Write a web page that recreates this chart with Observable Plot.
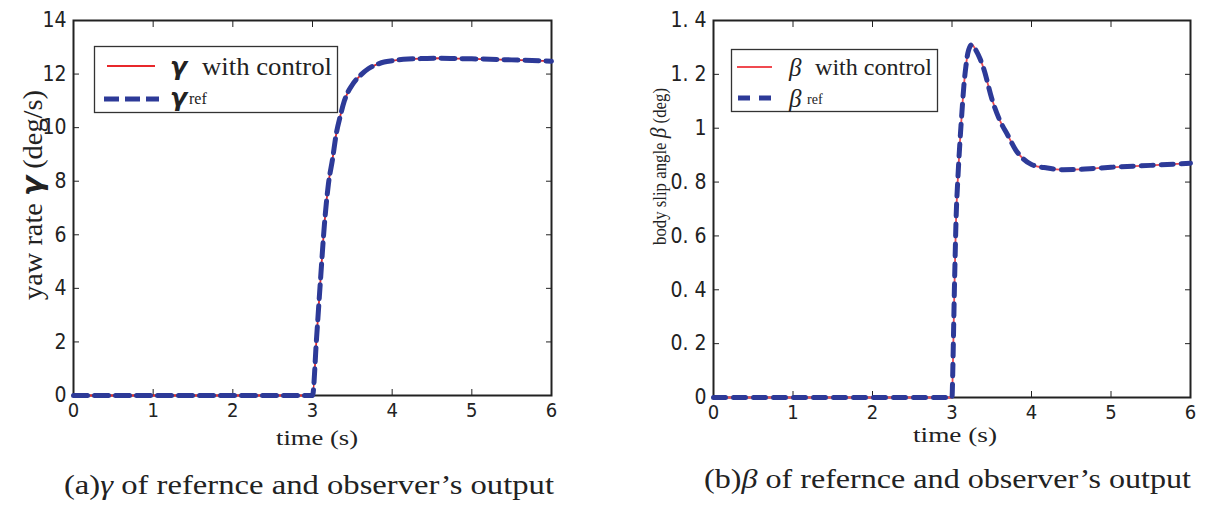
<!DOCTYPE html>
<html><head><meta charset="utf-8">
<script src="https://cdn.jsdelivr.net/npm/d3@7"></script>
<script src="https://cdn.jsdelivr.net/npm/@observablehq/plot@0.6"></script>
<style>
body{margin:0;background:#fff;}
#root{position:relative;width:1207px;height:507px;overflow:hidden;background:#fff;}
#root > svg, #root > div{position:absolute;top:0;}
#left{left:0;}
#right{left:600px;}
#overlay{left:0;top:0;pointer-events:none;}
.serif{font-family:"Liberation Serif","DejaVu Serif",serif;fill:#222;}
</style>
</head><body>
<div id="root">
  <div id="left"></div>
  <div id="right"></div>
</div>
<script>
// ---- data ----
const xTicks = [0, 1, 2, 3, 4, 5, 6];
const gammaTicks = [0, 2, 4, 6, 8, 10, 12, 14];
const betaTicks = [0, 0.2, 0.4, 0.6, 0.8, 1, 1.2, 1.4];
const betaTickLabels = ["0", "0. 2", "0. 4", "0. 6", "0. 8", "1", "1. 2", "1. 4"];

const gammaTime = [0, 0.5, 1, 1.5, 2, 2.5, 2.98, 3.0, 3.05, 3.1, 3.15, 3.2, 3.25, 3.3, 3.35, 3.4, 3.5, 3.6, 3.7, 3.8, 3.9, 4.0, 4.2, 4.4, 4.6, 4.8, 5.0, 5.5, 6.0];
const gammaCtrl = [0, 0, 0, 0, 0, 0, 0, 0, 2.1, 4.3, 6.4, 7.9, 8.8, 9.8, 10.45, 11.0, 11.6, 11.95, 12.2, 12.35, 12.45, 12.5, 12.56, 12.58, 12.59, 12.58, 12.57, 12.53, 12.48];
const gammaRef  = [0, 0, 0, 0, 0, 0, 0, 0, 2.1, 4.3, 6.4, 7.9, 8.8, 9.8, 10.45, 11.0, 11.6, 11.95, 12.2, 12.35, 12.45, 12.5, 12.56, 12.58, 12.59, 12.58, 12.57, 12.53, 12.48];

const betaTime = [0, 0.5, 1, 1.5, 2, 2.5, 2.99, 3.0, 3.01, 3.02, 3.03, 3.04, 3.05, 3.075, 3.1, 3.125, 3.15, 3.175, 3.2, 3.25, 3.3, 3.35, 3.4, 3.5, 3.6, 3.7, 3.8, 3.9, 4.0, 4.2, 4.4, 4.6, 4.8, 5.0, 5.5, 6.0];
const betaCtrl = [0, 0, 0, 0, 0, 0, 0, 0, 0.1, 0.25, 0.4, 0.53, 0.65, 0.82, 0.95, 1.06, 1.16, 1.23, 1.28, 1.31, 1.29, 1.26, 1.22, 1.11, 1.03, 0.975, 0.92, 0.885, 0.865, 0.852, 0.846, 0.847, 0.851, 0.855, 0.862, 0.87];
const betaRef  = [0, 0, 0, 0, 0, 0, 0, 0, 0.1, 0.25, 0.4, 0.53, 0.65, 0.82, 0.95, 1.06, 1.16, 1.23, 1.28, 1.31, 1.29, 1.26, 1.22, 1.11, 1.03, 0.975, 0.92, 0.885, 0.865, 0.852, 0.846, 0.847, 0.851, 0.855, 0.862, 0.87];

const redL = "#e8282b", redR = "#f04a50", blue = "#2d3a98";
const tickFont = "'Liberation Sans Narrow','DejaVu Sans Condensed','Liberation Sans',sans-serif";

function rows(t, v) { return t.map((d, i) => ({t: d, v: v[i]})); }

function chart({width, height, mL, mR, mT, mB, yDomain, yTicks, yFormat, ctrl, ref, red, dash, time}) {
  return Plot.plot({
    width, height, marginLeft: mL, marginRight: mR, marginTop: mT, marginBottom: mB,
    x: {domain: [0, 6]},
    y: {domain: yDomain},
    style: {fontFamily: tickFont, fontSize: "20px", color: "#222", background: "transparent", overflow: "visible"},
    marks: [
      Plot.frame({stroke: "#222", strokeWidth: 2}),
      Plot.axisX(xTicks, {anchor: "bottom", tickSize: 0, tickPadding: 7, label: null, fontSize: 20}),
      Plot.axisX(xTicks, {anchor: "bottom", tickSize: -6, tickFormat: () => "", label: null}),
      Plot.axisX(xTicks, {anchor: "top", tickSize: -6, tickFormat: () => "", label: null}),
      Plot.axisY(yTicks, {anchor: "left", tickSize: 0, tickPadding: 7, label: null, fontSize: 21, tickFormat: yFormat}),
      Plot.axisY(yTicks, {anchor: "left", tickSize: -6, tickFormat: () => "", label: null}),
      Plot.axisY(yTicks, {anchor: "right", tickSize: -6, tickFormat: () => "", label: null}),
      Plot.line(rows(time, ctrl), {x: "t", y: "v", stroke: red, strokeWidth: 1.8, curve: "monotone-x"}),
      Plot.line(rows(time, ref), {x: "t", y: "v", stroke: blue, strokeWidth: 5, strokeDasharray: dash, curve: "monotone-x"})
    ]
  });
}

document.getElementById("left").append(chart({
  width: 600, height: 450, mL: 73, mR: 49, mT: 20, mB: 55,
  yDomain: [0, 14], yTicks: gammaTicks, yFormat: d => String(d),
  ctrl: gammaCtrl, ref: gammaRef, red: redL, dash: "14,7", time: gammaTime
}));
document.getElementById("right").append(chart({
  width: 607, height: 452, mL: 113, mR: 17, mT: 20, mB: 55,
  yDomain: [0, 1.4], yTicks: betaTicks, yFormat: d => betaTickLabels[betaTicks.indexOf(d)],
  ctrl: betaCtrl, ref: betaRef, red: redR, dash: "12,8", time: betaTime
}));

// ---- overlay text: axis titles, legends, captions ----
const ns = "http://www.w3.org/2000/svg";
const ov = document.createElementNS(ns, "svg");
ov.setAttribute("id", "overlay");
ov.setAttribute("width", 1207); ov.setAttribute("height", 507);
const G = `font-family="DejaVu Sans" font-weight="bold" font-style="italic"`;
ov.innerHTML = `
  <g class="serif">
    <text x="276" y="445" font-size="22" textLength="82" lengthAdjust="spacingAndGlyphs">time (s)</text>
    <text x="913" y="442" font-size="22" textLength="84" lengthAdjust="spacingAndGlyphs">time (s)</text>
    <text transform="translate(42,300) rotate(-90)" font-size="28" textLength="210" lengthAdjust="spacingAndGlyphs">yaw rate <tspan ${G} font-size="29">γ</tspan> (deg/s)</text>
    <text transform="translate(666,245) rotate(-90)" font-size="18" textLength="157" lengthAdjust="spacingAndGlyphs">body slip angle <tspan font-style="italic" font-size="23">β</tspan> (deg)</text>

    <rect x="94.5" y="46.5" width="243" height="66" fill="#fff" stroke="#333" stroke-width="1.3"/>
    <line x1="107" x2="155" y1="66" y2="66" stroke="${redL}" stroke-width="1.8"/>
    <line x1="104" x2="159" y1="99" y2="99" stroke="${blue}" stroke-width="5" stroke-dasharray="15,6"/>
    <text x="170" y="75" font-size="25" ${G}>γ</text>
    <text x="202" y="75" font-size="25" textLength="130" lengthAdjust="spacingAndGlyphs">with control</text>
    <text x="170" y="106" font-size="25" ${G}>γ</text>
    <text x="189" y="104" font-size="16">ref</text>

    <rect x="731.5" y="49.5" width="206" height="62" fill="#fff" stroke="#333" stroke-width="1.3"/>
    <line x1="737" x2="772" y1="67" y2="67" stroke="${redR}" stroke-width="1.8"/>
    <line x1="738" x2="772" y1="98" y2="98" stroke="${blue}" stroke-width="5" stroke-dasharray="12,9"/>
    <text x="789" y="76" font-size="25" font-style="italic">β</text>
    <text x="815" y="75" font-size="23" textLength="117" lengthAdjust="spacingAndGlyphs">with control</text>
    <text x="789" y="107" font-size="25" font-style="italic">β</text>
    <text x="807" y="104" font-size="14">ref</text>

    <text x="64" y="494" font-size="27" textLength="490" lengthAdjust="spacingAndGlyphs">(a)<tspan font-style="italic">γ</tspan> of refernce and observer’s output</text>
    <text x="704" y="488" font-size="27" textLength="487" lengthAdjust="spacingAndGlyphs">(b)<tspan font-style="italic">β</tspan> of refernce and observer’s output</text>
  </g>`;
document.getElementById("root").append(ov);
</script>
</body></html>
